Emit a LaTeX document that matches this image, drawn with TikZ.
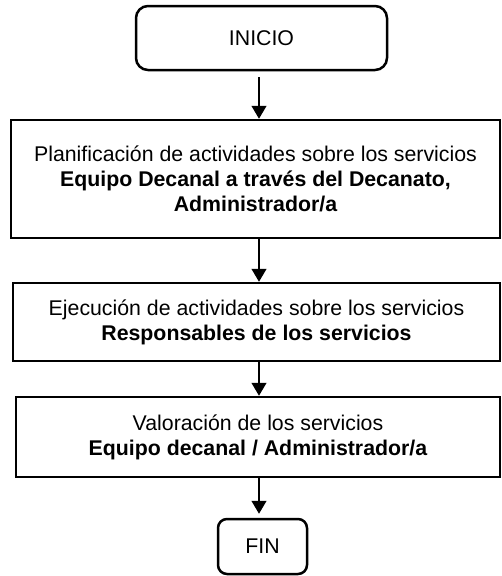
\documentclass[tikz,border=0pt]{standalone}
\usepackage{fontspec}
\setmainfont{Liberation Sans}
\usetikzlibrary{arrows.meta}
\begin{document}
\begin{tikzpicture}[x=1pt,y=-1pt,
  box/.style={draw, line width=2.5pt, align=center, inner sep=0pt,
    font=\fontsize{21.3}{24.8}\selectfont},
  arr/.style={line width=1.2pt, -{Triangle[length=13pt,width=15pt]}}]
\useasboundingbox (0,0) rectangle (502,576);
\node[box, rounded corners=12pt, minimum width=251pt, minimum height=64pt] (inicio) at (261.5,38) {INICIO};
\node[box, minimum width=489pt, minimum height=118pt] (b2) at (255.5,179)
  {Planificación de actividades sobre los servicios\\
   \textbf{Equipo Decanal a través del Decanato,}\\
   \textbf{Administrador/a}};
\node[box, minimum width=487pt, minimum height=78pt] (b3) at (256.5,322)
  {Ejecución de actividades sobre los servicios\\
   \textbf{Responsables de los servicios}};
\node[box, minimum width=484pt, minimum height=80pt] (b4) at (258,437)
  {Valoración de los servicios\\
   \textbf{Equipo decanal / Administrador/a}};
\node[box, rounded corners=9pt, minimum width=89pt, minimum height=55pt] (fin) at (262.5,546.5) {FIN};
\coordinate (ax) at (259,0);
\draw[arr, shorten <=6pt] (ax |- inicio.south) -- (ax |- b2.north);
\draw[arr] (ax |- b2.south) -- (ax |- b3.north);
\draw[arr] (ax |- b3.south) -- (ax |- b4.north);
\draw[arr, shorten >=4pt] (ax |- b4.south) -- (ax |- fin.north);
\end{tikzpicture}
\end{document}
